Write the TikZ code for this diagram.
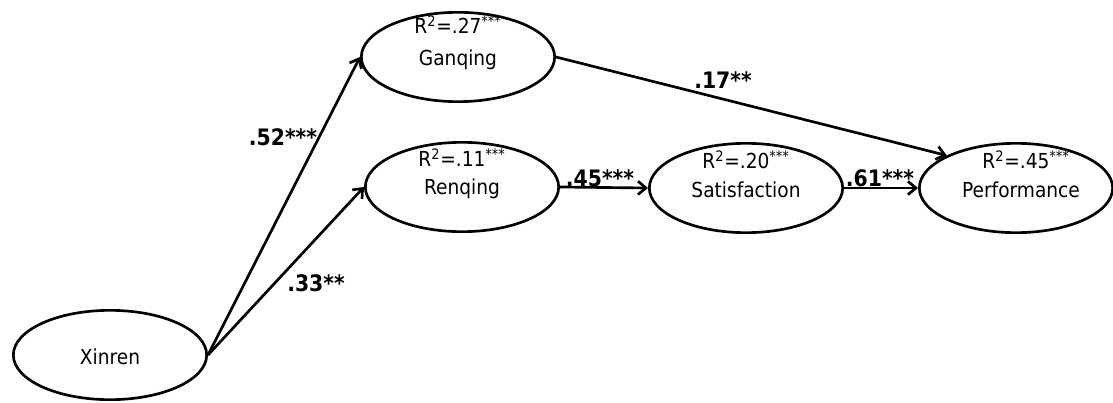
\documentclass[tikz,border=0pt]{standalone}
\usepackage{fontspec}
\setmainfont{DejaVu Sans Condensed}
\usetikzlibrary{shapes.geometric,arrows.meta}
\begin{document}
\begin{tikzpicture}[x=0.75pt,y=-0.75pt,
  latent/.style={draw,ellipse,line width=2pt,minimum width=145pt,minimum height=67pt,inner sep=0pt},
  txt/.style={inner sep=0pt,font=\fontsize{15.5}{18}\selectfont},
  path/.style={line width=2pt,-{Straight Barb[length=6pt,width=10pt,line width=2pt]}},
  coef/.style={font=\bfseries\fontsize{17}{20}\selectfont,inner sep=0pt}]
\useasboundingbox (0,0) rectangle (1113,403);
\node[latent] (gan) at (458,57) {};
\node[latent] (ren) at (462,187) {};
\node[latent] (sat) at (746,188) {};
\node[latent] (per) at (1016,188) {};
\node[latent] (xin) at (110,355) {};
\node[txt] (ganr) at (458,25) {R\textsuperscript{2}=.27\textsuperscript{***}};
\node[txt] (gann) at (458,60) {Ganqing};
\node[txt] (renr) at (462,158) {R\textsuperscript{2}=.11\textsuperscript{***}};
\node[txt] (renn) at (462,189) {Renqing};
\node[txt] (satr) at (746,160) {R\textsuperscript{2}=.20\textsuperscript{***}};
\node[txt] (satn) at (746,190) {Satisfaction};
\node[txt] (perr) at (1026,160) {R\textsuperscript{2}=.45\textsuperscript{***}};
\node[txt] (pern) at (1021,190) {Performance};
\node[txt] (xinn) at (110,357) {Xinren};
\draw[path] (xin.east) -- (gan.west);
\draw[path] (xin.east) -- (ren.west);
\draw[path] (gan.east) -- (per.north west);
\draw[path] (ren.east) -- (sat.west);
\draw[path] (sat.east) -- (per.west);
\node[coef] (c52) at (283,137) {.52***};
\node[coef] (c33) at (316,283) {.33**};
\node[coef] (c17) at (723,80) {.17**};
\node[coef] (c45) at (600,178) {.45***};
\node[coef] (c61) at (880,178) {.61***};
\end{tikzpicture}
\end{document}
